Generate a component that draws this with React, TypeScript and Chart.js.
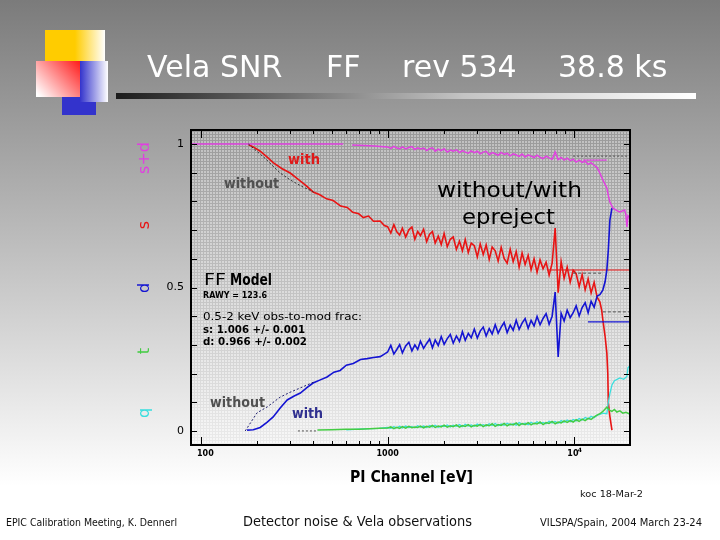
import { useEffect, useRef } from "react";
import { Chart, registerables } from "chart.js";

Chart.register(...registerables);

const W = 720;
const H = 540;

// PI channel grid (eV) for the noisy part of the spectrum ratios
const NOISY_EV = [
  1000, 1040, 1080, 1120, 1160, 1200, 1250, 1300, 1350, 1400,
  1450, 1500, 1560, 1620, 1680, 1740, 1800, 1870, 1940, 2010,
  2090, 2170, 2250, 2340, 2430, 2520, 2610, 2710, 2810, 2920,
  3030, 3140, 3260, 3380, 3510, 3640, 3780, 3920, 4070, 4220,
  4380, 4550, 4720, 4900, 5080, 5270, 5470, 5680, 5890, 6110,
  6340, 6580, 6830, 7090, 7360, 7640, 7930, 8230, 8540, 8860,
  9200, 9550, 9910, 10280, 10670, 11070, 11490, 11920, 12370, 12840,
  13320,
];

// s+d (singles + doubles)
const SD_LOW_EV = [88, 200, 400, 577];
const SD_LOW = [1.0, 1.0, 1.0, 1.0];
const SD_MID_EV = [645, 750, 850, 950];
const SD_MID = [0.997, 0.995, 0.993, 0.991];
const SD_NOISY = [
  0.990, 0.985, 0.992, 0.986, 0.984, 0.990, 0.983, 0.988, 0.991, 0.981,
  0.987, 0.983, 0.986, 0.977, 0.984, 0.987, 0.975, 0.982, 0.977, 0.984,
  0.972, 0.979, 0.975, 0.980, 0.970, 0.977, 0.972, 0.968, 0.976, 0.970,
  0.975, 0.966, 0.972, 0.975, 0.963, 0.970, 0.966, 0.961, 0.971, 0.964,
  0.968, 0.959, 0.966, 0.962, 0.957, 0.965, 0.955, 0.962, 0.958, 0.953,
  0.961, 0.954, 0.949, 0.958, 0.952, 0.947, 0.972, 0.946, 0.953, 0.944,
  0.951, 0.942, 0.947, 0.937, 0.944, 0.936, 0.940, 0.929, 0.935, 0.926,
  0.918,
];
const SD_TAIL_EV = [13780, 14300, 15020, 15300, 15600, 16200, 17000, 17650, 18700, 19000, 19250, 19500, 19800];
const SD_TAIL = [0.899, 0.875, 0.847, 0.82, 0.798, 0.777, 0.768, 0.763, 0.77, 0.755, 0.711, 0.75, 0.745];

// s (singles)
const S_LOW_EV = [179, 190, 207, 225, 243, 270, 300, 330, 365, 398, 430, 470, 510, 560, 607, 650, 700, 740, 790, 840, 912, 960];
const S_LOW = [0.998, 0.99, 0.975, 0.955, 0.935, 0.915, 0.899, 0.878, 0.855, 0.833, 0.824, 0.809, 0.803, 0.784, 0.779, 0.762, 0.757, 0.744, 0.749, 0.731, 0.732, 0.716];
const S_NOISY = [
  0.712, 0.690, 0.719, 0.694, 0.683, 0.707, 0.676, 0.701, 0.711, 0.668,
  0.695, 0.681, 0.703, 0.660, 0.686, 0.695, 0.655, 0.679, 0.650, 0.688,
  0.642, 0.668, 0.676, 0.633, 0.661, 0.628, 0.667, 0.622, 0.655, 0.646,
  0.607, 0.652, 0.615, 0.648, 0.598, 0.641, 0.628, 0.592, 0.640, 0.601,
  0.585, 0.633, 0.590, 0.625, 0.571, 0.620, 0.580, 0.612, 0.562, 0.600,
  0.553, 0.596, 0.565, 0.588, 0.543, 0.585, 0.707, 0.482, 0.590, 0.532,
  0.571, 0.519, 0.560, 0.548, 0.503, 0.545, 0.492, 0.530, 0.481, 0.518,
  0.466,
];
const S_TAIL_EV = [13780, 14100, 14300, 14700, 15020, 15200, 15300, 15600, 16000];
const S_TAIL = [0.45, 0.42, 0.387, 0.33, 0.272, 0.2, 0.098, 0.05, 0.003];

// d (doubles)
const D_LOW_EV = [176, 190, 207, 225, 243, 265, 289, 315, 340, 370, 398, 435, 473, 515, 556, 600, 654, 715, 775, 840, 912, 960];
const D_LOW = [0.003, 0.004, 0.012, 0.03, 0.049, 0.08, 0.108, 0.122, 0.132, 0.152, 0.167, 0.178, 0.188, 0.205, 0.211, 0.229, 0.235, 0.249, 0.252, 0.256, 0.259, 0.268];
const D_NOISY = [
  0.275, 0.298, 0.268, 0.284, 0.301, 0.272, 0.296, 0.309, 0.279, 0.300,
  0.284, 0.313, 0.288, 0.305, 0.320, 0.290, 0.317, 0.298, 0.329, 0.302,
  0.322, 0.336, 0.306, 0.331, 0.312, 0.346, 0.316, 0.340, 0.325, 0.355,
  0.324, 0.348, 0.362, 0.331, 0.357, 0.338, 0.370, 0.341, 0.362, 0.378,
  0.343, 0.369, 0.351, 0.386, 0.354, 0.376, 0.392, 0.358, 0.385, 0.366,
  0.399, 0.370, 0.392, 0.409, 0.372, 0.400, 0.484, 0.258, 0.410, 0.383,
  0.421, 0.395, 0.412, 0.436, 0.401, 0.430, 0.447, 0.412, 0.452, 0.431,
  0.470,
];
const D_TAIL_EV = [13780, 14290, 14700, 15020, 15300, 15600, 16000];
const D_TAIL = [0.475, 0.491, 0.52, 0.561, 0.631, 0.735, 0.777];

// t (triples)
const T_LOW_EV = [420, 500, 600, 700, 800, 900];
const T_LOW = [0.003, 0.004, 0.006, 0.006, 0.008, 0.009];
const T_NOISY = [
  0.010, 0.014, 0.008, 0.013, 0.009, 0.015, 0.010, 0.016, 0.011, 0.014,
  0.012, 0.017, 0.011, 0.016, 0.013, 0.019, 0.012, 0.017, 0.014, 0.020,
  0.013, 0.018, 0.015, 0.021, 0.013, 0.019, 0.016, 0.022, 0.014, 0.020,
  0.017, 0.023, 0.015, 0.021, 0.018, 0.025, 0.016, 0.022, 0.019, 0.026,
  0.018, 0.024, 0.021, 0.028, 0.019, 0.026, 0.022, 0.029, 0.021, 0.027,
  0.024, 0.031, 0.022, 0.029, 0.026, 0.033, 0.025, 0.031, 0.028, 0.035,
  0.030, 0.036, 0.031, 0.039, 0.033, 0.041, 0.036, 0.044, 0.040, 0.049,
  0.055,
];
const T_TAIL_EV = [13780, 14300, 15020, 15600, 16000, 16500, 17000, 17650, 18300, 19000, 19800];
const T_TAIL = [0.06, 0.068, 0.083, 0.072, 0.068, 0.075, 0.066, 0.07, 0.062, 0.065, 0.06];

// q (quadruples)
const Q_LOW_EV = [600, 700, 800, 900];
const Q_LOW = [0.004, 0.006, 0.008, 0.009];
const Q_NOISY = [
  0.012, 0.009, 0.015, 0.011, 0.016, 0.010, 0.017, 0.012, 0.015, 0.011,
  0.018, 0.013, 0.017, 0.012, 0.019, 0.014, 0.020, 0.013, 0.018, 0.015,
  0.021, 0.014, 0.020, 0.016, 0.022, 0.015, 0.023, 0.017, 0.021, 0.016,
  0.024, 0.018, 0.022, 0.017, 0.025, 0.019, 0.026, 0.018, 0.024, 0.020,
  0.027, 0.021, 0.025, 0.020, 0.029, 0.023, 0.027, 0.022, 0.030, 0.024,
  0.032, 0.026, 0.030, 0.025, 0.034, 0.028, 0.033, 0.027, 0.036, 0.030,
  0.038, 0.032, 0.040, 0.035, 0.043, 0.038, 0.047, 0.042, 0.051, 0.046,
  0.055,
];
const Q_TAIL_EV = [13780, 14300, 15020, 15300, 15600, 16000, 16500, 17650, 18500, 19250, 19500, 19800];
const Q_TAIL = [0.058, 0.062, 0.06, 0.1, 0.13, 0.16, 0.175, 0.185, 0.18, 0.19, 0.22, 0.225];

// "without epreject" curves (dotted)
const S_WO_EV = [179, 220, 265, 300, 340, 400];
const S_WO = [1.0, 0.95, 0.899, 0.875, 0.855, 0.833];
const D_WO_EV = [172, 199, 226, 265, 300, 340, 400];
const D_WO = [0.0, 0.063, 0.084, 0.118, 0.135, 0.15, 0.17];
const T_WO_EV = [330, 420];
const T_WO = [0.0, 0.0];

// last-bin levels
const SD_WO_LAST_EV = [9900, 20000];
const SD_WO_LAST = [0.958, 0.958];
const S_WO_LAST_EV = [9900, 14300];
const S_WO_LAST = [0.55, 0.55];
const D_WO_LAST_EV = [14300, 20000];
const D_WO_LAST = [0.415, 0.415];
const SD_LAST_EV = [11200, 15000];
const SD_LAST = [0.944, 0.944];
const S_LAST_EV = [7200, 19800];
const S_LAST = [0.561, 0.561];
const D_LAST_EV = [11900, 19800];
const D_LAST = [0.38, 0.38];

// axis ticks
const Y_TICKS = [0, 0.1, 0.2, 0.3, 0.4, 0.5, 0.6, 0.7, 0.8, 0.9, 1.0];
const Y_LABELS: [number, string][] = [[0, "0"], [0.5, "0.5"], [1, "1"]];
const X_MAJOR = [100, 1000, 10000];
const X_MINOR = [200, 300, 400, 500, 600, 700, 800, 900, 2000, 3000, 4000, 5000, 6000, 7000, 8000, 9000];

const C_SD = "#e040e0";
const C_S = "#e81414";
const C_D = "#1414d2";
const C_T = "#44cc44";
const C_Q = "#3adede";

type Pt = { x: number; y: number | null };

function pts(...parts: [number[], (number | null)[]][]): Pt[] {
  const out: Pt[] = [];
  for (const [xs, ys] of parts) xs.forEach((x, i) => out.push({ x, y: ys[i] }));
  return out;
}

function fitText(ctx: CanvasRenderingContext2D, text: string, x: number, y: number, width: number, font: string, color: string) {
  ctx.save();
  ctx.font = font;
  ctx.fillStyle = color;
  ctx.textAlign = "left";
  ctx.textBaseline = "alphabetic";
  const w = ctx.measureText(text).width;
  ctx.translate(x, y);
  ctx.scale(width / w, 1);
  ctx.fillText(text, 0, 0);
  ctx.restore();
}

function halftone(ctx: CanvasRenderingContext2D) {
  const c = document.createElement("canvas");
  c.width = 3;
  c.height = 3;
  const g = c.getContext("2d")!;
  g.fillStyle = "rgba(255,255,255,0.34)";
  g.fillRect(0, 0, 2, 2);
  g.fillStyle = "rgba(0,0,0,0.035)";
  g.fillRect(2, 0, 1, 3);
  g.fillRect(0, 2, 2, 1);
  return ctx.createPattern(c, "repeat");
}

const slidePlugin = {
  id: "slide",
  beforeDraw(chart: any) {
    const ctx: CanvasRenderingContext2D = chart.ctx;
    const { left, top, right, bottom } = chart.chartArea;
    ctx.save();
    const bg = ctx.createLinearGradient(0, 0, 0, H);
    bg.addColorStop(0, "#7b7b7b");
    bg.addColorStop(0.9, "#ffffff");
    bg.addColorStop(1, "#ffffff");
    ctx.fillStyle = bg;
    ctx.fillRect(0, 0, W, H);

    // plot area halftone
    const pat = halftone(ctx);
    if (pat) {
      ctx.fillStyle = pat;
      ctx.fillRect(left, top, right - left, bottom - top);
    }

    // corner squares
    const yel = ctx.createLinearGradient(45, 0, 105, 0);
    yel.addColorStop(0, "#ffcc00");
    yel.addColorStop(0.5, "#ffcc00");
    yel.addColorStop(1, "#ffffff");
    ctx.fillStyle = yel;
    ctx.fillRect(45, 30, 60, 40);
    ctx.fillStyle = "#3333cc";
    ctx.fillRect(62, 90, 34, 25);
    const red = ctx.createLinearGradient(80, 61, 40, 97);
    red.addColorStop(0, "#ff1a1a");
    red.addColorStop(1, "#ffffff");
    ctx.fillStyle = red;
    ctx.fillRect(36, 61, 44, 36);
    const blu = ctx.createLinearGradient(80, 0, 108, 0);
    blu.addColorStop(0, "#3333cc");
    blu.addColorStop(1, "#ffffff");
    ctx.fillStyle = blu;
    ctx.fillRect(80, 61, 28, 41);

    // title
    ctx.fillStyle = "#ffffff";
    ctx.font = "30px 'DejaVu Sans'";
    ctx.textBaseline = "alphabetic";
    ctx.fillText("Vela SNR", 147, 77);
    ctx.fillText("FF", 326, 77);
    ctx.fillText("rev 534", 402, 77);
    ctx.fillText("38.8 ks", 558, 77);

    const ul = ctx.createLinearGradient(116, 0, 696, 0);
    ul.addColorStop(0, "#1c1c1c");
    ul.addColorStop(0.3, "#707070");
    ul.addColorStop(0.6, "#c4c4c4");
    ul.addColorStop(1, "#ffffff");
    ctx.fillStyle = ul;
    ctx.fillRect(116, 93, 580, 6);

    // rotated pattern-type labels
    const rot: [string, number, string][] = [
      ["s+d", 158, C_SD],
      ["s", 225, C_S],
      ["d", 288, C_D],
      ["t", 351, C_T],
      ["q", 413, C_Q],
    ];
    ctx.font = "16px 'DejaVu Sans'";
    for (const [t, cy, col] of rot) {
      ctx.save();
      ctx.translate(145, cy);
      ctx.rotate(-Math.PI / 2);
      ctx.textAlign = "center";
      ctx.textBaseline = "middle";
      ctx.fillStyle = col;
      ctx.fillText(t, 0, 0);
      ctx.restore();
    }

    // footer
    fitText(ctx, "EPIC Calibration Meeting, K. Dennerl", 6, 526, 171, "11px 'DejaVu Sans'", "#111");
    fitText(ctx, "Detector noise & Vela observations", 243, 526, 229, "14px 'DejaVu Sans'", "#111");
    fitText(ctx, "VILSPA/Spain, 2004 March 23-24", 540, 526, 162, "11px 'DejaVu Sans'", "#111");
    ctx.restore();
  },
  afterDatasetsDraw(chart: any) {
    const ctx: CanvasRenderingContext2D = chart.ctx;
    const { left, top, right, bottom } = chart.chartArea;
    const xs = chart.scales.x;
    const ys = chart.scales.y;
    ctx.save();

    // ticks pointing inward
    ctx.strokeStyle = "#000";
    ctx.lineWidth = 1;
    ctx.beginPath();
    for (const v of Y_TICKS) {
      const py = Math.round(ys.getPixelForValue(v)) + 0.5;
      ctx.moveTo(left, py);
      ctx.lineTo(left + 6, py);
      ctx.moveTo(right, py);
      ctx.lineTo(right - 6, py);
    }
    for (const v of X_MAJOR) {
      const px = Math.round(xs.getPixelForValue(v)) + 0.5;
      ctx.moveTo(px, bottom);
      ctx.lineTo(px, bottom - 8);
      ctx.moveTo(px, top);
      ctx.lineTo(px, top + 8);
    }
    for (const v of X_MINOR) {
      const px = Math.round(xs.getPixelForValue(v)) + 0.5;
      ctx.moveTo(px, bottom);
      ctx.lineTo(px, bottom - 4);
      ctx.moveTo(px, top);
      ctx.lineTo(px, top + 4);
    }
    ctx.stroke();

    ctx.lineWidth = 2;
    ctx.strokeRect(left, top, right - left, bottom - top);

    // tick labels
    ctx.fillStyle = "#000";
    ctx.font = "11px 'DejaVu Sans'";
    ctx.textAlign = "right";
    ctx.textBaseline = "middle";
    for (const [v, t] of Y_LABELS) ctx.fillText(t, 184, ys.getPixelForValue(v));
    ctx.font = "bold 8px 'DejaVu Sans'";
    ctx.textAlign = "center";
    ctx.textBaseline = "alphabetic";
    ctx.fillText("100", xs.getPixelForValue(100) + 4, 456);
    ctx.fillText("1000", xs.getPixelForValue(1000), 456);
    const p4 = xs.getPixelForValue(10000);
    ctx.fillText("10", p4 - 1, 456);
    ctx.font = "bold 6px 'DejaVu Sans'";
    ctx.fillText("4", p4 + 6, 452);

    fitText(ctx, "PI Channel [eV]", 350, 482, 123, "bold 16px 'DejaVu Sans'", "#000");
    fitText(ctx, "koc 18-Mar-2", 580, 497, 63, "8px 'DejaVu Sans'", "#111");

    // annotations
    fitText(ctx, "with", 288, 164, 32, "bold 14px 'DejaVu Sans'", "#e01818");
    fitText(ctx, "without", 224, 188, 55, "bold 14px 'DejaVu Sans'", "#505050");
    fitText(ctx, "without/with", 437, 197, 145, "22px 'DejaVu Sans'", "#000");
    fitText(ctx, "epreject", 462, 224, 93, "22px 'DejaVu Sans'", "#000");
    fitText(ctx, "FF", 204, 285, 22, "16px 'DejaVu Sans'", "#000");
    fitText(ctx, "Model", 230, 285, 42, "bold 16px 'DejaVu Sans'", "#000");
    fitText(ctx, "RAWY = 123.6", 203, 298, 64, "bold 9px 'DejaVu Sans'", "#000");
    fitText(ctx, "0.5-2 keV obs-to-mod frac:", 203, 320, 159, "10px 'DejaVu Sans'", "#000");
    fitText(ctx, "s: 1.006 +/- 0.001", 203, 333, 102, "bold 10px 'DejaVu Sans'", "#000");
    fitText(ctx, "d: 0.966 +/- 0.002", 203, 345, 104, "bold 10px 'DejaVu Sans'", "#000");
    fitText(ctx, "without", 210, 407, 55, "bold 14px 'DejaVu Sans'", "#505050");
    fitText(ctx, "with", 292, 418, 31, "bold 14px 'DejaVu Sans'", "#303090");
    ctx.restore();
  },
};

function line(data: Pt[], color: string, width = 1.4, dash: number[] = []) {
  return {
    data,
    borderColor: color,
    borderWidth: width,
    borderDash: dash,
    pointRadius: 0,
    tension: 0,
    fill: false,
    spanGaps: false,
  };
}

export default function App() {
  const ref = useRef<HTMLCanvasElement>(null);

  useEffect(() => {
    const canvas = ref.current;
    if (!canvas) return;
    const chart = new Chart(canvas, {
      type: "line",
      data: {
        datasets: [
          line(pts([S_WO_EV, S_WO]), "#303030", 1, [2, 2]),
          line(pts([D_WO_EV, D_WO]), "#202070", 1, [2, 2]),
          line(pts([T_WO_EV, T_WO]), "#505050", 1, [2, 2]),
          line(pts([SD_WO_LAST_EV, SD_WO_LAST]), "#505050", 1, [2, 2]),
          line(pts([S_WO_LAST_EV, S_WO_LAST]), "#505050", 1, [3, 2]),
          line(pts([D_WO_LAST_EV, D_WO_LAST]), "#505050", 1, [3, 2]),
          line(pts([SD_LOW_EV, SD_LOW], [[600], [null]], [SD_MID_EV, SD_MID], [NOISY_EV, SD_NOISY], [SD_TAIL_EV, SD_TAIL]), C_SD, 1.5),
          line(pts([SD_LAST_EV, SD_LAST]), C_SD, 1.2),
          line(pts([T_LOW_EV, T_LOW], [NOISY_EV, T_NOISY], [T_TAIL_EV, T_TAIL]), C_T, 1.5),
          line(pts([Q_LOW_EV, Q_LOW], [NOISY_EV, Q_NOISY], [Q_TAIL_EV, Q_TAIL]), C_Q, 1.3),
          line(pts([D_LOW_EV, D_LOW], [NOISY_EV, D_NOISY], [D_TAIL_EV, D_TAIL]), C_D, 1.6),
          line(pts([D_LAST_EV, D_LAST]), C_D, 1.2),
          line(pts([S_LOW_EV, S_LOW], [NOISY_EV, S_NOISY], [S_TAIL_EV, S_TAIL]), C_S, 1.6),
          line(pts([S_LAST_EV, S_LAST]), C_S, 1.2),
        ],
      },
      options: {
        animation: false,
        responsive: false,
        devicePixelRatio: 1,
        layout: { padding: { left: 191, top: 130, right: 90, bottom: 95 } },
        scales: {
          x: { type: "logarithmic", min: 88, max: 20000, display: false },
          y: { type: "linear", min: -0.049, max: 1.049, display: false },
        },
        plugins: {
          legend: { display: false },
          tooltip: { enabled: false },
        },
      },
      plugins: [slidePlugin],
    } as any);
    return () => chart.destroy();
  }, []);

  return (
    <div style={{ position: "fixed", left: 0, top: 0, width: W, height: H }}>
      <canvas ref={ref} width={W} height={H} style={{ display: "block", width: W, height: H }} />
    </div>
  );
}
